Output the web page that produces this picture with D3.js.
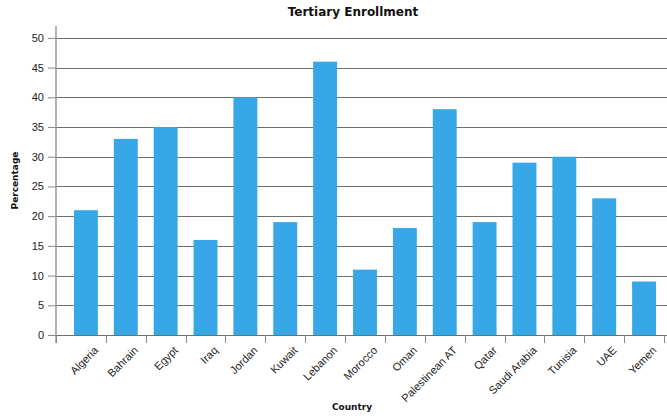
<!DOCTYPE html>
<html>
<head>
<meta charset="utf-8">
<script src="https://cdn.jsdelivr.net/npm/d3@7"></script>
<style>
  body { margin: 0; background: #fff; }
  svg { display: block; }
</style>
</head>
<body>
<div id="chart"></div>
<script>
var countries = ["Algeria", "Bahrain", "Egypt", "Iraq", "Jordan", "Kuwait", "Lebanon", "Morocco",
    "Oman", "Palestinean AT", "Qatar", "Saudi Arabia", "Tunisia", "UAE", "Yemen"];
var enrollment = [21, 33, 35, 16, 40, 19, 46, 11, 18, 38, 19, 29, 30, 23, 9];
var yTicks = [0, 5, 10, 15, 20, 25, 30, 35, 40, 45, 50];

var width = 667, height = 416;
var plot = { left: 56, right: 667, top: 26, bottom: 335 };

var data = countries.map(function(c, i) { return { country: c, value: enrollment[i] }; });

var svg = d3.select("#chart")
    .append("svg")
    .attr("width", width)
    .attr("height", height);

var xScale = d3.scaleBand()
    .domain(countries)
    .range([66, 664])
    .paddingInner(0.4)
    .paddingOuter(0.2);
var yScale = d3.scaleLinear()
    .domain([0, 52])
    .range([plot.bottom, plot.top]);

// gridlines
svg.append("g")
    .selectAll("line")
    .data(yTicks)
    .enter()
    .append("line")
    .attr("x1", plot.left)
    .attr("x2", plot.right)
    .attr("y1", function(d) { return Math.round(yScale(d)) + 0.5; })
    .attr("y2", function(d) { return Math.round(yScale(d)) + 0.5; })
    .attr("stroke", "#6f6f6f")
    .attr("stroke-width", 1);

// bars
svg.append("g")
    .selectAll("rect")
    .data(data)
    .enter()
    .append("rect")
    .attr("x", function(d) { return xScale(d.country); })
    .attr("y", function(d) { return yScale(d.value); })
    .attr("width", xScale.bandwidth())
    .attr("height", function(d) { return yScale(0) - yScale(d.value); })
    .attr("fill", "#37a7e8");

// y axis
var yAxis = d3.axisLeft(yScale).tickValues(yTicks).tickSize(8).tickPadding(4);
var gy = svg.append("g")
    .attr("transform", "translate(" + plot.left + ",0)")
    .call(yAxis);
gy.select(".domain").remove();
gy.selectAll(".tick line").attr("stroke", "#888");
gy.selectAll("text")
    .attr("font-family", "'Liberation Sans', Arial, sans-serif")
    .attr("font-size", "11px")
    .attr("fill", "#222");
svg.append("line")
    .attr("x1", plot.left).attr("x2", plot.left)
    .attr("y1", plot.top).attr("y2", plot.bottom + 8)
    .attr("stroke", "#999")
    .attr("stroke-width", 1.5);

// x axis ticks at the right edge of every band
var step = xScale.step();
var tickX = [plot.left].concat(countries.map(function(c) {
    return xScale(c) + xScale.bandwidth() + (step - xScale.bandwidth()) / 2;
}));
svg.append("g")
    .selectAll("line")
    .data(tickX)
    .enter()
    .append("line")
    .attr("x1", function(d) { return Math.round(d) + 0.5; })
    .attr("x2", function(d) { return Math.round(d) + 0.5; })
    .attr("y1", plot.bottom)
    .attr("y2", plot.bottom + 8)
    .attr("stroke", "#888");

// x tick labels
svg.append("g")
    .selectAll("text")
    .data(countries)
    .enter()
    .append("text")
    .attr("transform", function(d) {
        return "translate(" + (xScale(d) + xScale.bandwidth() / 2 + 13) + "," + (plot.bottom + 16) + ") rotate(-45)";
    })
    .attr("text-anchor", "end")
    .attr("font-family", "'Liberation Sans', Arial, sans-serif")
    .attr("font-size", "11px")
    .attr("fill", "#222")
    .text(function(d) { return d; });

// titles
svg.append("text")
    .attr("x", 353)
    .attr("y", 16)
    .attr("text-anchor", "middle")
    .attr("font-family", "'DejaVu Sans', Verdana, sans-serif")
    .attr("font-weight", "bold")
    .attr("font-size", "12px")
    .attr("fill", "#111")
    .text("Tertiary Enrollment");

svg.append("text")
    .attr("transform", "translate(18," + ((plot.top + plot.bottom) / 2) + ") rotate(-90)")
    .attr("text-anchor", "middle")
    .attr("font-family", "'DejaVu Sans', Verdana, sans-serif")
    .attr("font-weight", "bold")
    .attr("font-size", "9px")
    .attr("fill", "#111")
    .text("Percentage");

svg.append("text")
    .attr("x", 352)
    .attr("y", 410)
    .attr("text-anchor", "middle")
    .attr("font-family", "'DejaVu Sans', Verdana, sans-serif")
    .attr("font-weight", "bold")
    .attr("font-size", "9px")
    .attr("fill", "#111")
    .text("Country");
</script>
</body>
</html>
